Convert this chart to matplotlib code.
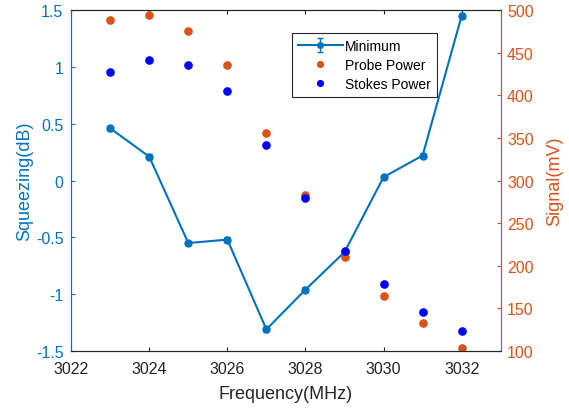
import numpy as np
import matplotlib.pyplot as plt

plt.rcParams['font.family'] = ['Liberation Sans', 'DejaVu Sans']

# data
freq = [3023, 3024, 3025, 3026, 3027, 3028, 3029, 3030, 3031, 3032]
squeeze_min = [0.46, 0.21, -0.55, -0.52, -1.31, -0.96, -0.63, 0.03, 0.22, 1.45]
squeeze_err = [0.02, 0.02, 0.02, 0.02, 0.02, 0.02, 0.03, 0.02, 0.02, 0.02]
probe_power = [488, 494, 476, 435, 356, 283, 210, 165, 133, 104]
stokes_power = [427, 441, 436, 405, 342, 280, 217, 179, 146, 123]

blue = '#0072BD'
orange = '#D95319'
gray = '#262626'

fig = plt.figure(figsize=(5.69, 4.10), dpi=100)
ax = fig.add_axes([0.125, 0.1415, 0.755, 0.8315])
ax2 = ax.twinx()

h1 = ax.errorbar(freq, squeeze_min, yerr=squeeze_err, color=blue, lw=1.5,
                 marker='o', ms=5, capsize=2, elinewidth=1, label='Minimum')
h2, = ax2.plot(freq, probe_power, ls='none', marker='o', ms=5.2,
               color=orange, label='Probe Power')
h3, = ax2.plot(freq, stokes_power, ls='none', marker='o', ms=5.2,
               color='#0000FF', label='Stokes Power')

ax.set_xlim(3022, 3033)
ax.set_ylim(-1.5, 1.5)
ax2.set_ylim(100, 500)
ax.set_xticks([3022, 3024, 3026, 3028, 3030, 3032])
ax.set_yticks([-1.5, -1, -0.5, 0, 0.5, 1, 1.5])
ax.set_yticklabels(['-1.5', '-1', '-0.5', '0', '0.5', '1', '1.5'])
ax2.set_yticks([100, 150, 200, 250, 300, 350, 400, 450, 500])

ax.set_xlabel('Frequency(MHz)', fontsize=13, color=gray, labelpad=6)
ax.set_ylabel('Squeezing(dB)', fontsize=13, color=blue, labelpad=2)
ax2.set_ylabel('Signal(mV)', fontsize=13, color=orange, labelpad=9)

ax.tick_params(axis='x', direction='in', length=3, labelsize=11.5, colors=gray,
               top=True, pad=7.5)
ax.tick_params(axis='y', direction='in', length=3, labelsize=11.5, colors=blue,
               pad=5.5)
ax2.tick_params(axis='y', direction='in', length=3, labelsize=11.5,
                colors=orange, pad=4.5)

for a in (ax, ax2):
    a.spines['top'].set_color(gray)
    a.spines['bottom'].set_color(gray)
    a.spines['left'].set_color(blue)
    a.spines['right'].set_color(orange)
    for s in a.spines.values():
        s.set_linewidth(0.8)

leg = ax2.legend([h1, h2, h3], ['Minimum', 'Probe Power', 'Stokes Power'],
                 loc='upper left', bbox_to_anchor=(0.514, 0.933),
                 borderaxespad=0, fontsize=10, fancybox=False, framealpha=1,
                 edgecolor='#262626', handlelength=3.2, labelspacing=0.35,
                 borderpad=0.45, handletextpad=0.15, markerscale=0.8)
leg.get_frame().set_linewidth(0.8)

fig.savefig('out.png', dpi=100)
